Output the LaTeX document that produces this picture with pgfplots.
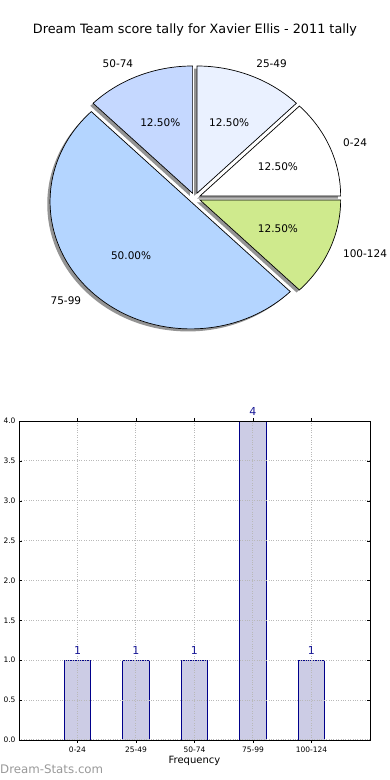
\documentclass[border=0pt]{standalone}
\usepackage{pgfplots}
\pgfplotsset{compat=1.18}
\usepackage{fontspec}
\setmainfont{DejaVu Sans}
\definecolor{c0}{RGB}{255,255,255}
\definecolor{c1}{RGB}{234,241,255}
\definecolor{c2}{RGB}{197,216,255}
\definecolor{c3}{RGB}{180,213,255}
\definecolor{c4}{RGB}{207,234,141}
\definecolor{barfill}{RGB}{204,204,229}
\definecolor{baredge}{RGB}{0,0,139}
\definecolor{barlabel}{RGB}{25,25,150}
\definecolor{gridgray}{RGB}{185,185,185}
% pie radii (pt) per axis unit
\def\RX{140.7pt}
\def\RY{127.3pt}
% #1 start angle, #2 end angle, #3 explode, #4 colour
\newcommand\pieslice[4]{%
  \filldraw[fill=#4, draw=black, line width=0.7pt, line join=miter]
    (axis cs:0,0) ++({#3*cos((#1+#2)/2)*\RX},{#3*sin((#1+#2)/2)*\RY})
    -- ++({cos(#1)*\RX},{sin(#1)*\RY})
    arc[start angle=#1, end angle=#2, x radius=\RX, y radius=\RY] -- cycle;}
\newcommand\pieshadow[3]{%
  \fill[black!42]
    (axis cs:-0.02,-0.02) ++({#3*cos((#1+#2)/2)*\RX},{#3*sin((#1+#2)/2)*\RY})
    -- ++({cos(#1)*\RX},{sin(#1)*\RY})
    arc[start angle=#1, end angle=#2, x radius=\RX, y radius=\RY] -- cycle;}
\begin{document}
\begin{tikzpicture}
\useasboundingbox (0pt,0pt) rectangle (390pt,780pt);
\node[font=\fontsize{12.8}{14}\selectfont] at (195pt,750pt) {Dream Team score tally for Xavier Ellis - 2011 tally};
% ---------------- pie: counts 1,1,1,4,1 of 8 -> 45 degrees per count
\begin{axis}[at={(11.84pt,416.51pt)}, anchor=south west, scale only axis,
  x=140.7pt, y=127.3pt, xmin=-1.3, xmax=1.3, ymin=-1.3, ymax=1.3,
  hide axis, clip=false]
\pieshadow{0}{45}{0.04}
\pieshadow{45}{90}{0.04}
\pieshadow{90}{135}{0.04}
\pieshadow{135}{315}{0.04}
\pieshadow{315}{360}{0.04}
\pieslice{0}{45}{0.04}{c0}
\pieslice{45}{90}{0.04}{c1}
\pieslice{90}{135}{0.04}{c2}
\pieslice{135}{315}{0.04}{c3}
\pieslice{315}{360}{0.04}{c4}
\begin{scope}[every node/.style={font=\fontsize{10.5}{12}\selectfont, inner sep=0pt}]
\node[anchor=west] at (axis cs:1.0532,0.4363) {0-24};
\node[anchor=west] at (axis cs:0.4363,1.0532) {25-49};
\node[anchor=east] at (axis cs:-0.4363,1.0532) {50-74};
\node[anchor=east] at (axis cs:-0.8061,-0.8061) {75-99};
\node[anchor=west] at (axis cs:1.0532,-0.4363) {100-124};
\node at (axis cs:0.5913,0.2449) {12.50\%};
\node at (axis cs:0.2449,0.5913) {12.50\%};
\node at (axis cs:-0.2449,0.5913) {12.50\%};
\node at (axis cs:-0.4525,-0.4525) {50.00\%};
\node at (axis cs:0.5913,-0.2449) {12.50\%};
\end{scope}
\end{axis}
% ---------------- bar chart
\begin{axis}[at={(19pt,40pt)}, anchor=south west, scale only axis,
  width=351pt, height=319pt,
  xmin=-1, xmax=5, ymin=0, ymax=4,
  xtick={0,1,2,3,4}, xticklabels={0-24,25-49,50-74,75-99,100-124},
  ytick={0,0.5,...,4},
  yticklabel style={/pgf/number format/.cd, fixed, fixed zerofill, precision=1},
  /pgf/number format/assume math mode=true,
  tick label style={font=\fontsize{7.5}{8}\selectfont},
  xlabel={Frequency}, xlabel style={font=\fontsize{10}{12}\selectfont, yshift=3pt},
  grid=major, grid style={dotted, gridgray, line width=1pt},
  axis on top,
  tick align=inside, major tick length=3pt, tick style={black},
  axis line style={black, line width=0.8pt},
  ybar, bar width=0.45,
  nodes near coords,
  nodes near coords style={font=\fontsize{11}{12}\selectfont, text=barlabel, anchor=south, inner sep=0pt, yshift=5.5pt},
  clip=false]
\addplot[fill=barfill, draw=baredge, line width=0.8pt] coordinates {(0,1) (1,1) (2,1) (3,4) (4,1)};
\end{axis}
\node[anchor=west, inner sep=0pt, text=black!40, font=\fontsize{11.8}{13}\selectfont] at (0pt,10.5pt) {Dream-Stats.com};
\end{tikzpicture}
\end{document}
